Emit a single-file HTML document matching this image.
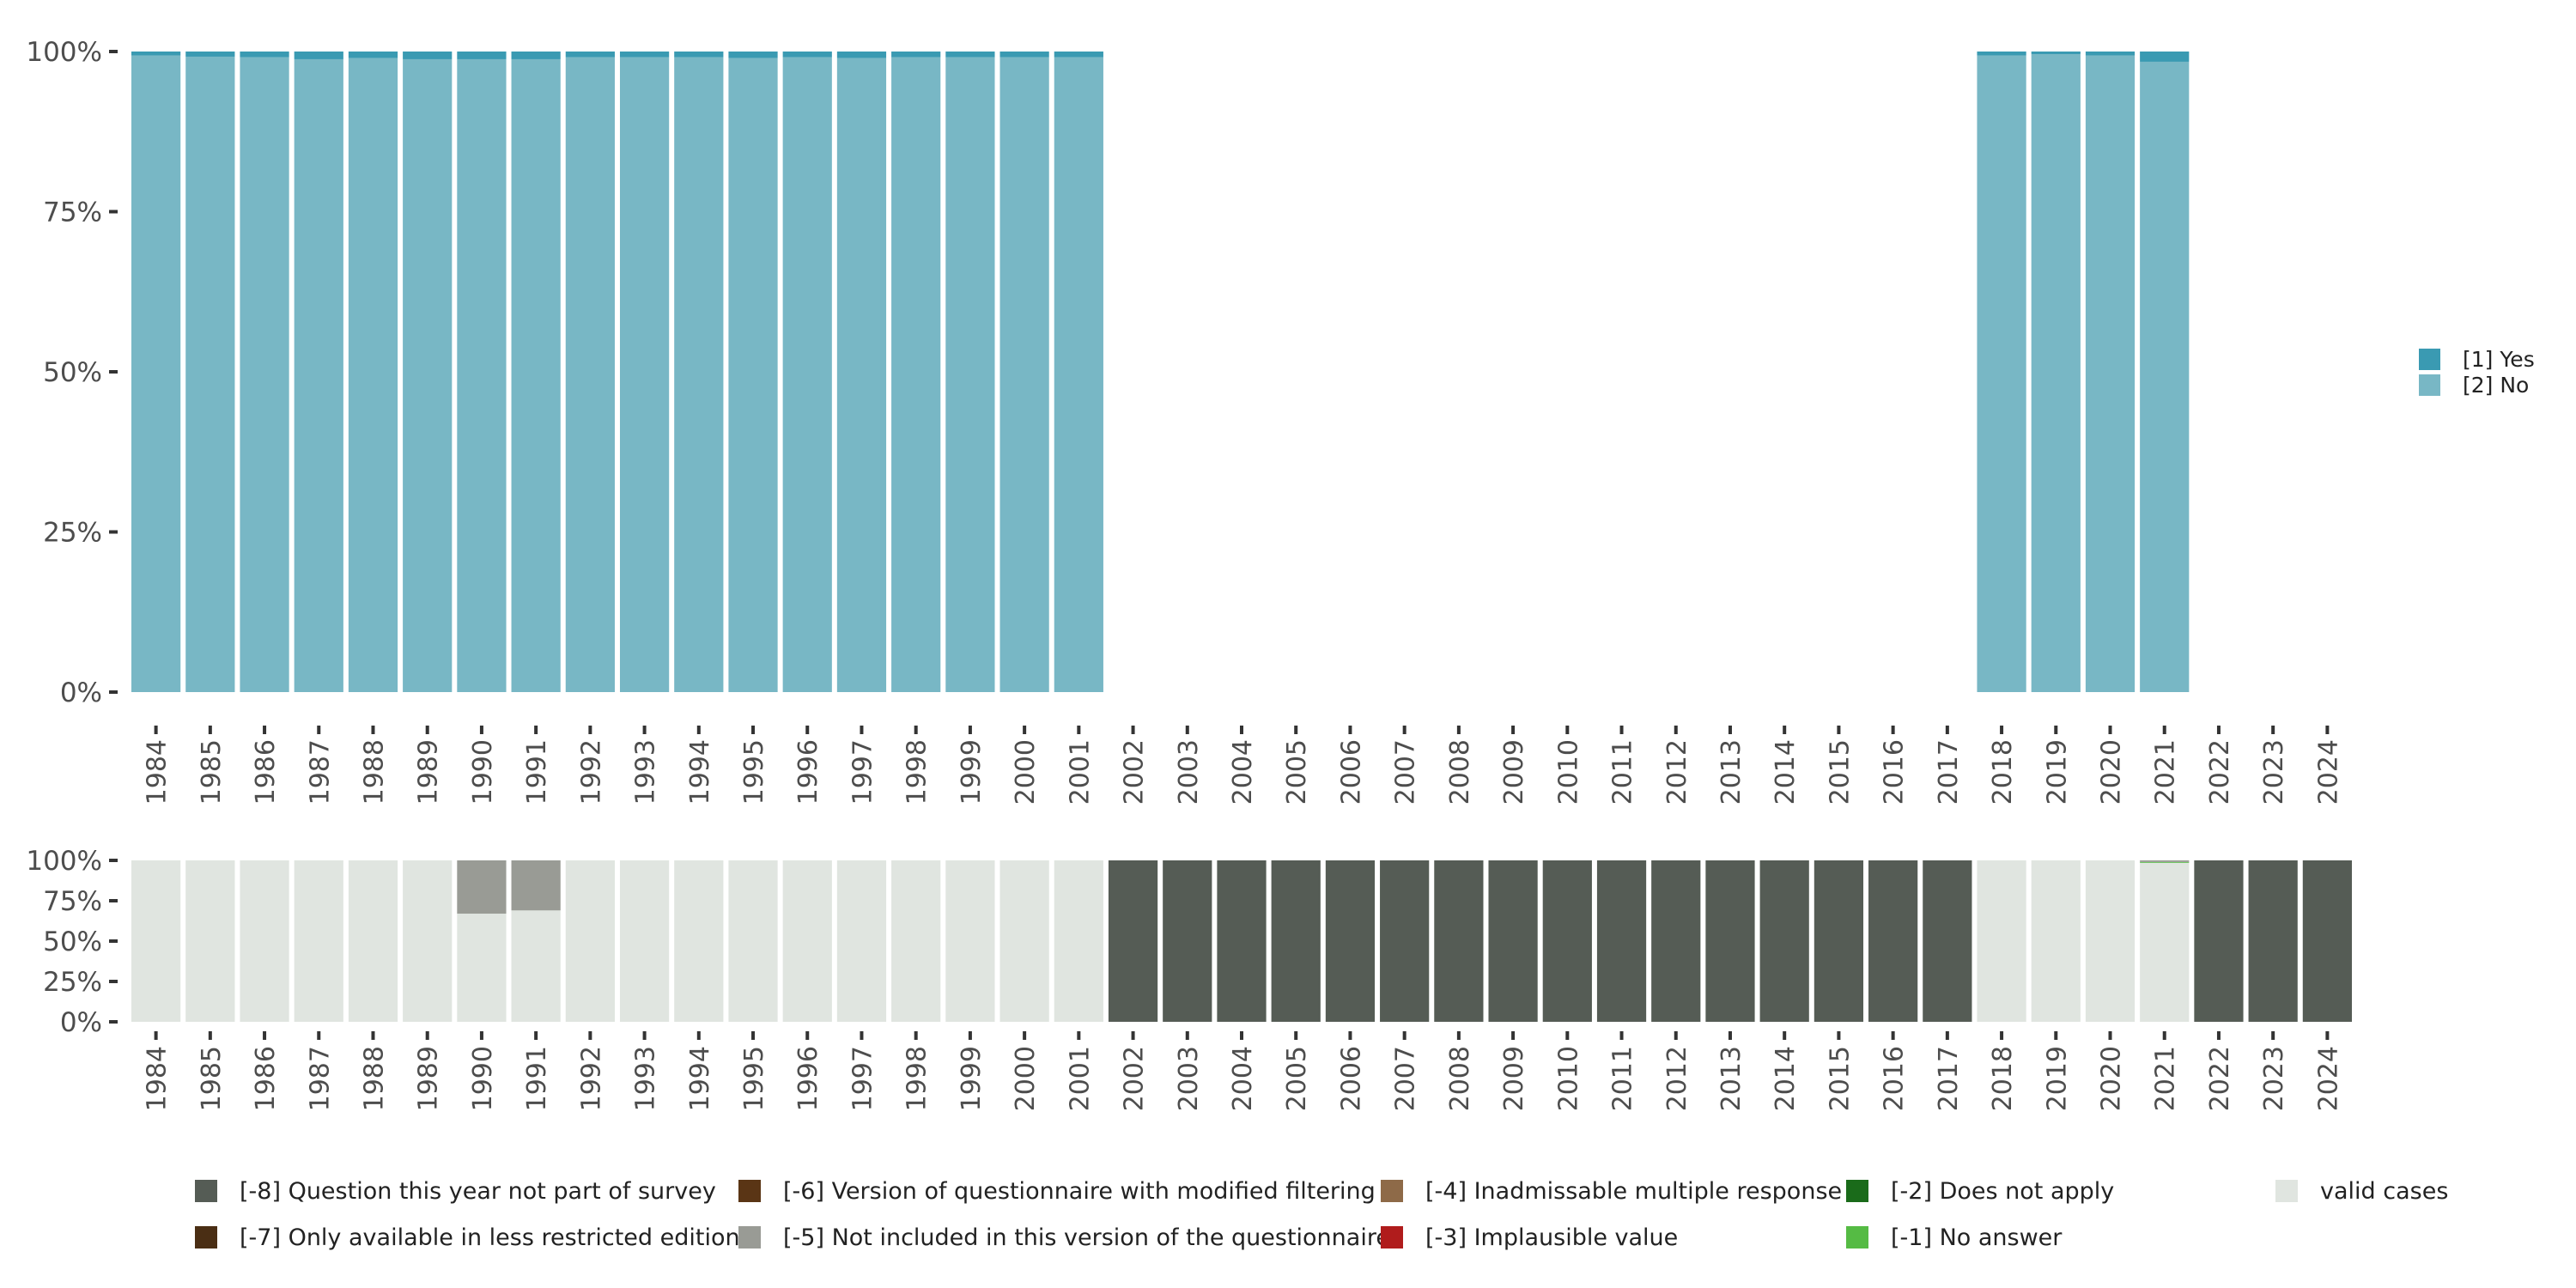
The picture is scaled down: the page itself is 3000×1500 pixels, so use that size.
<!DOCTYPE html>
<html><head><meta charset="utf-8"><style>
html,body{margin:0;padding:0;background:#fff;}
svg{display:block;font-family:"DejaVu Sans","Liberation Sans",sans-serif;}
</style></head><body>
<svg id="chart" width="3000" height="1500" viewBox="0 0 3000 1500" xmlns="http://www.w3.org/2000/svg">
<g id="top"></g>
<g id="bot"></g>
<g id="legR"></g>
<g id="legB"></g>
</svg>
<script>
const years = [];
for (let y = 1984; y <= 2024; y++) years.push(y);
// top panel: share of "Yes" (%) per year; null = no data
const yesShare = [0.6,0.8,0.9,1.2,1.0,1.2,1.2,1.2,0.9,0.9,0.9,1.0,0.9,1.0,0.9,0.9,0.9,0.9,
 null,null,null,null,null,null,null,null,null,null,null,null,null,null,null,null,
 0.6,0.4,0.6,1.6,null,null,null];
// bottom panel shares (%)
const validShare = [100,100,100,100,100,100,67,69,100,100,100,100,100,100,100,100,100,100,
 0,0,0,0,0,0,0,0,0,0,0,0,0,0,0,0,100,100,100,98.5,0,0,0];
const noAnswerShare = [0,0,0,0,0,0,0,0,0,0,0,0,0,0,0,0,0,0,0,0,0,0,0,0,0,0,0,0,0,0,0,0,0,0,0,0,0,0.5,0,0,0];
const notIncludedShare = [0,0,0,0,0,0,33,31,0,0,0,0,0,0,0,0,0,0,0,0,0,0,0,0,0,0,0,0,0,0,0,0,0,0,0,0,0,1,0,0,0];
const notSurveyShare = [0,0,0,0,0,0,0,0,0,0,0,0,0,0,0,0,0,0,100,100,100,100,100,100,100,100,100,100,100,100,100,100,100,100,0,0,0,0,100,100,100];
const yTicks = [0,25,50,75,100];
const yTickLabels = ["0%","25%","50%","75%","100%"];

const NS = "http://www.w3.org/2000/svg";
const TXT = "#4d4d4d";
function mk(parent, tag, attrs, text){
  const e = document.createElementNS(NS, tag);
  for (const k in attrs) e.setAttribute(k, attrs[k]);
  if (text !== undefined) e.textContent = text;
  parent.appendChild(e);
  return e;
}
const X0 = 150, X1 = 2742;
const pitch = (X1 - X0) / years.length;
const bw = pitch - 6;
function xPos(i){ return X0 + i * pitch + 3; }
function xCenter(i){ return X0 + (i + 0.5) * pitch; }

function panel(g, top, bottom, fs, tickY, labY, name){
  const yS = v => bottom - (v / 100) * (bottom - top);
  yTicks.forEach((t, k) => {
    const lab = mk(g, "text", {x: 119, y: yS(t) + fs*0.36, "text-anchor":"end", "font-size": fs, fill: TXT}, yTickLabels[k]);
    
    
    const tk = mk(g, "rect", {x: 127, y: yS(t) - 2, width: 10, height: 4, fill: "#333"});
    
    
  });
  years.forEach((yr, i) => {
    const tk = mk(g, "rect", {x: xCenter(i) - 2, y: tickY, width: 4, height: 10, fill: "#333"});
    
    
    const cx = xCenter(i) + 11, cy = labY;
    const lab = mk(g, "text", {x: cx, y: cy, "text-anchor":"end", "font-size": 30, fill: TXT, transform: `rotate(-90 ${cx} ${cy})`}, String(yr));
    
    
  });
  return yS;
}

// top panel
const gT = document.getElementById("top");
const yT = panel(gT, 60, 806, 31, 845, 861, "top");
years.forEach((yr, i) => {
  const v = yesShare[i];
  if (v === null) return;
  const no = mk(gT, "rect", {x: xPos(i), y: yT(100 - v), width: bw, height: yT(0) - yT(100 - v), fill: "#78b7c5"});
  
  
  const ys = mk(gT, "rect", {x: xPos(i), y: yT(100), width: bw, height: yT(100 - v) - yT(100), fill: "#3a9ab2"});
  
  
});

// bottom panel
const gB = document.getElementById("bot");
const yB = panel(gB, 1002, 1190, 31, 1201, 1218, "missing");
years.forEach((yr, i) => {
  const segs = [[validShare[i], "#e0e5e0", "valid"], [noAnswerShare[i], "#55bb44", "no-answer"], [notIncludedShare[i], "#999b95", "not-included"], [notSurveyShare[i], "#555c55", "not-survey"]];
  let acc = 0;
  segs.forEach(s => {
    if (s[0] <= 0) return;
    const r = mk(gB, "rect", {x: xPos(i), y: yB(acc + s[0]), width: bw, height: yB(acc) - yB(acc + s[0]), fill: s[1]});
    
    
    acc += s[0];
  });
});

// right legend
const gR = document.getElementById("legR");
[["[1] Yes", "#3a9ab2", 406], ["[2] No", "#78b7c5", 436]].forEach(e => {
  const sq = mk(gR, "rect", {x: 2817, y: e[2], width: 25, height: 25, fill: e[1]});
  
  
  const t = mk(gR, "text", {x: 2868, y: e[2] + 21, "font-size": 25, fill: "#222"}, e[0]);
  
  
});

// bottom legend
const gL = document.getElementById("legB");
const legItems = [
  ["[-8] Question this year not part of survey", "#555c55", 227, 1374],
  ["[-7] Only available in less restricted edition", "#4a2e14", 227, 1428],
  ["[-6] Version of questionnaire with modified filtering", "#5a3515", 860, 1374],
  ["[-5] Not included in this version of the questionnaire", "#999b95", 860, 1428],
  ["[-4] Inadmissable multiple response", "#8e6a48", 1608, 1374],
  ["[-3] Implausible value", "#b01c1c", 1608, 1428],
  ["[-2] Does not apply", "#1a6b1a", 2150, 1374],
  ["[-1] No answer", "#55bb44", 2150, 1428],
  ["valid cases", "#e0e5e0", 2650, 1374]
];
legItems.forEach(e => {
  const sq = mk(gL, "rect", {x: e[2], y: e[3], width: 26, height: 26, fill: e[1]});
  
  
  const t = mk(gL, "text", {x: e[2] + 52, y: e[3] + 22, "font-size": 27, fill: "#222"}, e[0]);
  
  
});
</script>
</body></html>
